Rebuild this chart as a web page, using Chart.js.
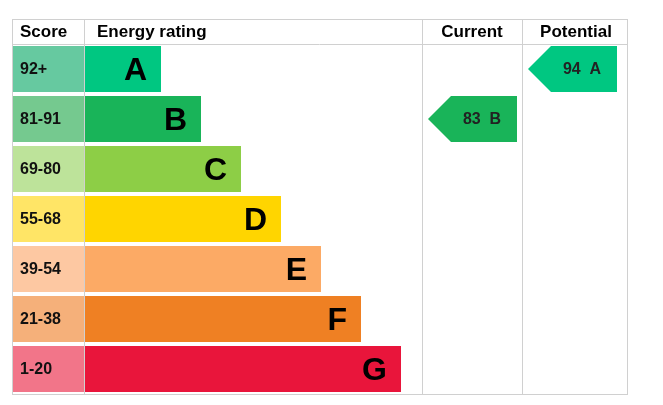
<!DOCTYPE html>
<html><head><meta charset="utf-8">
<script src="https://cdn.jsdelivr.net/npm/chart.js@4"></script>
<style>html,body{margin:0;padding:0;background:#fff}#w{width:663px;height:405px}</style>
</head><body><div id="w"><canvas id="c"></canvas></div>
<script>
const bands=['A','B','C','D','E','F','G'];
const scores=['92+','81-91','69-80','55-68','39-54','21-38','1-20'];
const barEnds=[149,189,229,269,309,349,389];
const scoreEnd=72;
const bandColors=['#00c781','#19b459','#8dce46','#ffd500','#fcaa65','#ef8023','#e9153b'];
const scoreColors=['#66c9a0','#75c98f','#bde39a','#ffe566','#fdc8a2','#f5b07a','#f27589'];
const currentValue=83, currentBand='B';
const potentialValue=94, potentialBand='A';

const overlay={id:'ov',afterDatasetsDraw(ch){
 const c=ch.ctx,a=ch.chartArea,x=ch.scales.x,y=ch.scales.y;
 const top=19;
 c.save();
 c.strokeStyle='#d0d0d0';c.lineWidth=1;
 c.strokeRect(a.left+0.5,top+0.5,a.right-a.left,a.bottom-top);
 c.beginPath();c.moveTo(a.left,a.top+0.5);c.lineTo(a.right,a.top+0.5);
 [72,410,510].forEach(v=>{const px=Math.round(x.getPixelForValue(v))+0.5;c.moveTo(px,top);c.lineTo(px,a.bottom);});
 c.stroke();
 c.fillStyle='#000';c.font='bold 17px Arial, "Liberation Sans", sans-serif';c.textBaseline='middle';
 c.textAlign='left';c.fillText('Score',a.left+8,32);c.fillText('Energy rating',x.getPixelForValue(85),32);
 c.textAlign='center';c.fillText('Current',x.getPixelForValue(460),32);c.fillText('Potential',x.getPixelForValue(564),32);
 bands.forEach((b,i)=>{const py=y.getPixelForValue(i);
  c.font='bold 16px Arial, "Liberation Sans", sans-serif';c.textAlign='left';c.fillStyle='#111';
  c.fillText(scores[i],a.left+8,py+1);
  c.font='bold 32px Arial, "Liberation Sans", sans-serif';c.textAlign='right';c.fillStyle='#000';
  c.fillText(b,x.getPixelForValue(barEnds[i])-14,py+2);});
 function arrow(val,band,l,r){const i=bands.indexOf(band),py=y.getPixelForValue(i),h=23;
  const L=x.getPixelForValue(l),R=x.getPixelForValue(r);
  c.fillStyle=bandColors[i];c.beginPath();c.moveTo(L,py);c.lineTo(L+h,py-h);c.lineTo(R,py-h);c.lineTo(R,py+h);c.lineTo(L+h,py+h);c.closePath();c.fill();
  c.fillStyle='#222';c.font='bold 16px Arial, "Liberation Sans", sans-serif';c.textAlign='center';
  c.fillText(val+'  '+band,(L+h+R)/2-2,py+1);}
 arrow(currentValue,currentBand,416,505);
 arrow(potentialValue,potentialBand,516,605);
 c.restore();}};

new Chart(document.getElementById('c'),{type:'bar',
 data:{labels:bands,datasets:[
  {data:scores.map(()=>[0,scoreEnd]),backgroundColor:scoreColors,barPercentage:0.92,categoryPercentage:1},
  {data:barEnds.map(e=>[scoreEnd,e]),backgroundColor:bandColors,barPercentage:0.92,categoryPercentage:1}]},
 options:{indexAxis:'y',responsive:true,maintainAspectRatio:false,animation:false,
  layout:{padding:{left:12,right:36,top:44,bottom:11}},
  plugins:{legend:{display:false},tooltip:{enabled:false}},
  scales:{x:{min:0,max:615,display:false,stacked:false},y:{display:false,stacked:true}}},
 plugins:[overlay]});
</script></body></html>
